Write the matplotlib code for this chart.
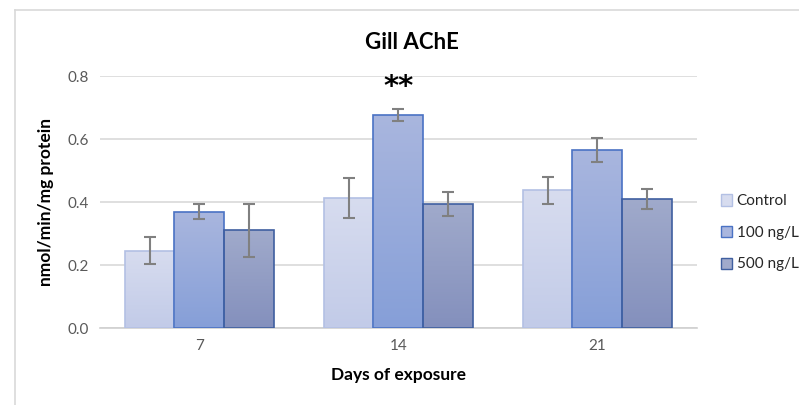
import numpy as np
import matplotlib.pyplot as plt
from matplotlib.lines import Line2D
from matplotlib.patches import Patch
from matplotlib.colors import LinearSegmentedColormap

plt.rcParams['font.family'] = ['Lato', 'DejaVu Sans']

# data
days = ["7", "14", "21"]
groups = ["Control", "100 ng/L", "500 ng/L"]
control = [0.245, 0.413, 0.438]
control_err = [0.043, 0.063, 0.043]
ng100 = [0.370, 0.678, 0.566]
ng100_err = [0.024, 0.019, 0.039]
ng500 = [0.310, 0.394, 0.411]
ng500_err = [0.084, 0.037, 0.032]

values = [control, ng100, ng500]
errors = [control_err, ng100_err, ng500_err]
tops = ["#d7dcef", "#a9b6de", "#a0aacb"]
bottoms = ["#c2cbe8", "#869fd8", "#8490bd"]
edges = ["#b3c0e4", "#4a72c4", "#3f5fa0"]

fig = plt.figure(figsize=(7.99, 4.05), dpi=100)
ax = fig.add_axes([0.125, 0.19, 0.747, 0.622])

x = np.arange(len(days))
w = 0.25
for i in range(3):
    bars = ax.bar(x + (i - 1) * w, values[i], w, color=bottoms[i],
                  edgecolor=edges[i], linewidth=1.2, zorder=3)
    cmap = LinearSegmentedColormap.from_list("g%d" % i, [bottoms[i], tops[i]])
    for b in bars:
        bx, by = b.get_x(), b.get_y()
        bw, bh = b.get_width(), b.get_height()
        grad = np.linspace(0, 1, 100).reshape(-1, 1)
        im = ax.imshow(grad, cmap=cmap, origin="lower", aspect="auto",
                       extent=[bx, bx + bw, by, by + bh], zorder=3)
        im.set_clip_path(b)
        b.set_facecolor("none")
        b.set_zorder(4)
    ax.errorbar(x + (i - 1) * w, values[i], yerr=errors[i], fmt="none",
                ecolor="#808080", elinewidth=1.5, capsize=4, capthick=1.5, zorder=5)

# significance mark
ax.text(x[1], ng100[1] + ng100_err[1] + 0.025, "**", ha="center", va="bottom",
        fontsize=21, fontweight="bold", family="DejaVu Sans")

ax.set_xlim(-0.5, 2.5)
ax.set_ylim(0, 0.8)
ax.set_yticks(np.arange(0, 0.81, 0.2))
ax.set_yticklabels(["%.1f" % v for v in np.arange(0, 0.81, 0.2)])
ax.set_xticks(x)
ax.set_xticklabels(days)
ax.tick_params(length=0, labelsize=11, colors="#595959", pad=8)
ax.yaxis.grid(True, color="#d9d9d9", linewidth=1.2, zorder=0)
ax.set_axisbelow(True)
for s in ["top", "right", "left"]:
    ax.spines[s].set_visible(False)
ax.spines["bottom"].set_color("#d0d0d0")
ax.spines["bottom"].set_linewidth(1.2)

ax.set_xlabel("Days of exposure", fontsize=12.5, fontweight="bold", labelpad=10)
ax.set_ylabel("nmol/min/mg protein", fontsize=12.5, fontweight="bold", labelpad=10)
fig.text(0.515, 0.895, "Gill AChE", ha="center", va="center", fontsize=16, fontweight="bold")

handles = [Patch(facecolor=tops[i], edgecolor=edges[i]) for i in range(3)]
fig.legend(handles, groups, loc="center left", bbox_to_anchor=(0.902, 0.425),
           frameon=False, fontsize=11, handlelength=0.75, handleheight=0.75,
           handletextpad=0.3, labelspacing=1.15, borderpad=0, borderaxespad=0,
           labelcolor="#262626")

# outer chart frame (top and left visible)
fig.add_artist(Line2D([15 / 799, 1], [1 - 10 / 405, 1 - 10 / 405], color="#d9d9d9", lw=1.2))
fig.add_artist(Line2D([15 / 799, 15 / 799], [0, 1 - 10 / 405], color="#d9d9d9", lw=1.2))

fig.savefig("out.png", dpi=100)
